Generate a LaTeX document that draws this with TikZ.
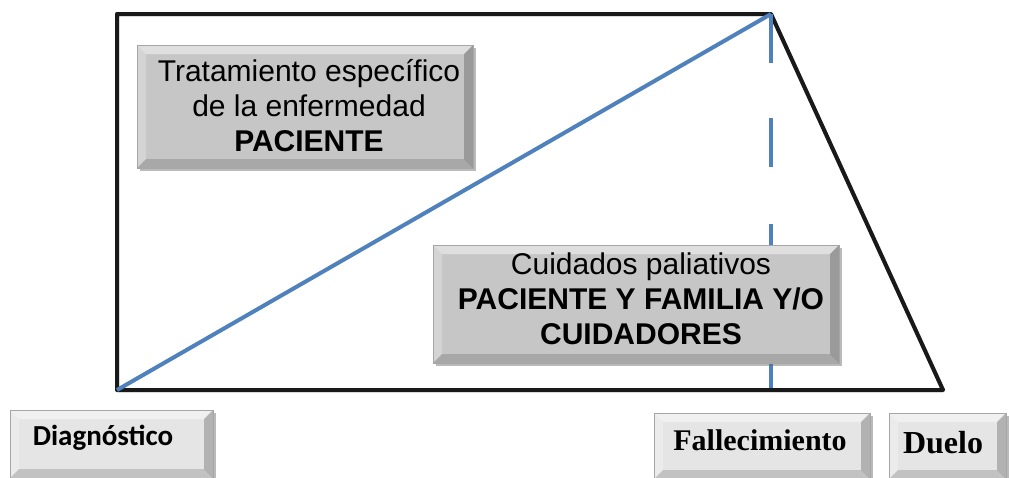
\documentclass[tikz,border=0pt]{standalone}
\usepackage{fontspec}
\newfontfamily\arialf{Liberation Sans}
\newfontfamily\calibrif{Carlito}
\newfontfamily\timesf{Liberation Serif}
\usetikzlibrary{shadows}
\definecolor{bluel}{HTML}{4F81BD}
\tikzset{
  bevelbox/.style={draw=gray!70, line width=0.6pt, fill=#1, inner sep=0pt,
    drop shadow={shadow xshift=3pt, shadow yshift=-3pt, opacity=0.45, fill=black!60},
    path picture={
      \fill[white,opacity=0.45] (path picture bounding box.north west) -- (path picture bounding box.north east)
        -- ([xshift=-9pt,yshift=-9pt]path picture bounding box.north east) -- ([xshift=9pt,yshift=-9pt]path picture bounding box.north west) -- cycle;
      \fill[white,opacity=0.25] (path picture bounding box.north west) -- ([xshift=9pt,yshift=-9pt]path picture bounding box.north west)
        -- ([xshift=9pt,yshift=9pt]path picture bounding box.south west) -- (path picture bounding box.south west) -- cycle;
      \fill[black,opacity=0.22] (path picture bounding box.north east) -- ([xshift=-9pt,yshift=-9pt]path picture bounding box.north east)
        -- ([xshift=-9pt,yshift=9pt]path picture bounding box.south east) -- (path picture bounding box.south east) -- cycle;
      \fill[black,opacity=0.15] (path picture bounding box.south west) -- ([xshift=9pt,yshift=9pt]path picture bounding box.south west)
        -- ([xshift=-9pt,yshift=9pt]path picture bounding box.south east) -- (path picture bounding box.south east) -- cycle;
    }},
  bigtext/.style={align=center, font=\arialf\fontsize{30}{35}\selectfont},
  frame/.style={line width=4pt, black!90, line join=round},
  blueline/.style={line width=4pt, bluel}
}
\begin{document}
\begin{tikzpicture}[x=1pt,y=-1pt]
\useasboundingbox (0,0) rectangle (1009,477);
\fill[white] (0,0) rectangle (1009,477);
\coordinate (tl) at (117,14);
\coordinate (tr) at (771,14);
\coordinate (br) at (943,390);
\coordinate (bl) at (117,390);
\coordinate (db) at (771,393);
\draw[black!25, line width=4pt, line join=round, xshift=2pt, yshift=-2pt] (tl) -- (tr) -- (br) -- (bl) -- cycle;
\draw[frame] (tl) -- (tr) -- (br) -- (bl) -- cycle;
\draw[blueline] (bl) -- (tr);
\draw[blueline, dash pattern=on 49pt off 55pt on 49pt off 57pt on 49pt off 66pt] (tr) -- (db);

\node[bevelbox=gray!45, minimum width=336pt, minimum height=123pt] (b1) at (305,106.5) {};
\node[bigtext, anchor=center] (t1) at (309,106) {Tratamiento específico\\de la enfermedad\\\textbf{PACIENTE}};

\node[bevelbox=gray!45, minimum width=406pt, minimum height=118pt] (b2) at (636,304) {};
\node[bigtext, anchor=center] (t2) at (641,299) {Cuidados paliativos\\\textbf{PACIENTE Y FAMILIA Y/O}\\\textbf{CUIDADORES}};

\node[bevelbox=gray!20, minimum width=203pt, minimum height=68pt] (d) at (111.5,444) {};
\node[font=\calibrif\bfseries\fontsize{29}{34}\selectfont] (dt) at (103,438) {Diagnóstico};

\node[bevelbox=gray!20, minimum width=216pt, minimum height=66pt] (f) at (762,446) {};
\node[font=\timesf\bfseries\fontsize{30}{36}\selectfont] (ft) at (760,440) {Fallecimiento};

\node[bevelbox=gray!20, minimum width=117pt, minimum height=66pt] (du) at (947.5,446) {};
\node[font=\timesf\bfseries\fontsize{32}{38}\selectfont] (dut) at (943,443) {Duelo};
\end{tikzpicture}
\end{document}
